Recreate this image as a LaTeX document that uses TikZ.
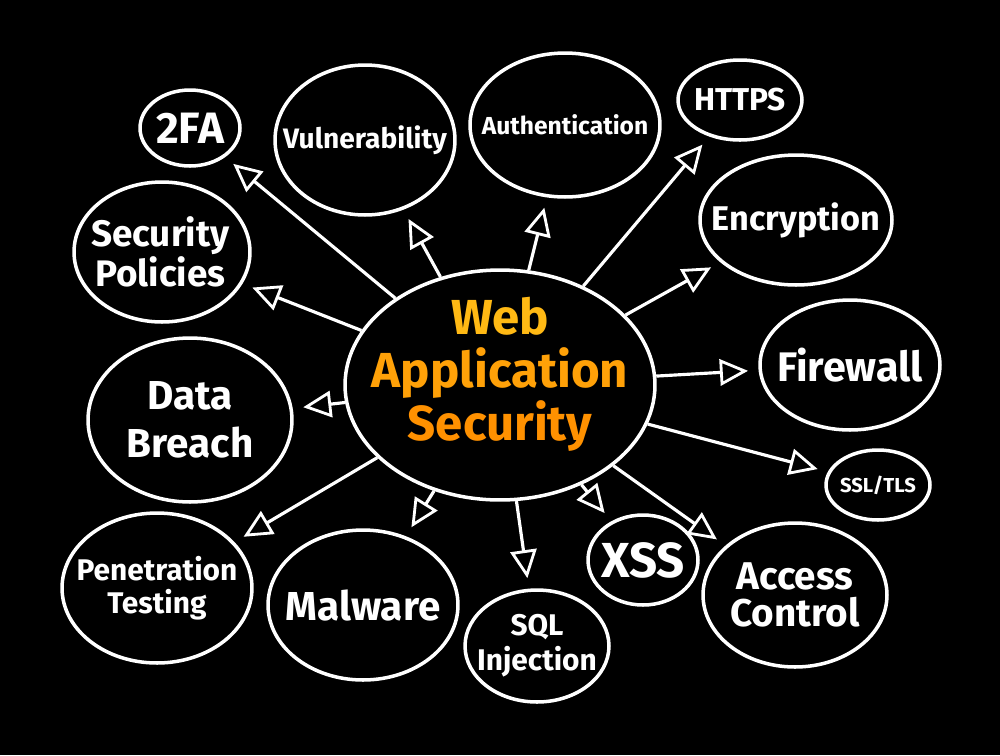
\documentclass[tikz,border=0pt]{standalone}
\usepackage{fontspec}
\setmainfont{Fira Sans}
\usetikzlibrary{shapes.geometric,arrows.meta}
\definecolor{webyel}{RGB}{255,185,20}
\definecolor{weborg}{RGB}{255,145,0}
\begin{document}
\begin{tikzpicture}[x=0.02cm,y=-0.02cm,
      bubble/.style={ellipse,draw=white,line width=2pt,inner sep=0pt},
      txt/.style={text=white,align=center,inner sep=0pt},
      vect/.style={-{Triangle[open,length=16pt,width=15pt,line width=1.6pt]},
        draw=white,line width=1.8pt,shorten >=6pt}]
    \fill[black] (0,0) rectangle (1000,755);
    % hub
    \node[bubble,minimum width=6.2cm,minimum height=4.6cm,
      label={[txt,font=\bfseries\fontsize{28}{30}\selectfont,yshift=6pt]center:%
      \textcolor{webyel}{Web}\\\textcolor{weborg!60!webyel}{Application}\\\textcolor{weborg}{Security}}]
      (hub) at (500,385) {};
    % satellites
    \node[bubble,minimum width=2cm,minimum height=1.52cm,
      label={[txt,font=\bfseries\fontsize{25}{27}\selectfont]center:2FA}] (twofa) at (190,128) {};
    \node[bubble,minimum width=3.6cm,minimum height=3cm,
      label={[txt,font=\bfseries\fontsize{16}{18}\selectfont]center:Vulnerability}] (vuln) at (365,140) {};
    \node[bubble,minimum width=3.8cm,minimum height=2.88cm,
      label={[txt,font=\bfseries\fontsize{14}{16}\selectfont]center:Authentication}] (auth) at (565,125) {};
    \node[bubble,minimum width=2.48cm,minimum height=1.6cm,
      label={[txt,font=\bfseries\fontsize{18}{20}\selectfont]center:HTTPS}] (https) at (740,100) {};
    \node[bubble,minimum width=3.84cm,minimum height=2.6cm,
      label={[txt,font=\bfseries\fontsize{19.5}{21}\selectfont]center:Encryption}] (encr) at (796,220) {};
    \node[bubble,minimum width=3.52cm,minimum height=2.8cm,
      label={[txt,font=\bfseries\fontsize{21}{21}\selectfont,xshift=-1pt]center:Security\\Policies}] (policy) at (162,252) {};
    \node[bubble,minimum width=3.6cm,minimum height=2.6cm,
      label={[txt,font=\bfseries\fontsize{23.5}{25}\selectfont]center:Firewall}] (firewall) at (850,365) {};
    \node[bubble,minimum width=4.08cm,minimum height=3.28cm,
      label={[txt,font=\bfseries\fontsize{23}{27}\selectfont]center:Data\\Breach}] (breach) at (190,420) {};
    \node[bubble,minimum width=2.08cm,minimum height=1.4cm,
      label={[txt,font=\bfseries\fontsize{11.5}{14}\selectfont]center:SSL/TLS}] (ssl) at (878,485) {};
    \node[bubble,minimum width=3.8cm,minimum height=3cm,
      label={[txt,font=\bfseries\fontsize{17}{19}\selectfont]center:Penetration\\Testing}] (pentest) at (157,588) {};
    \node[bubble,minimum width=3.8cm,minimum height=3cm,
      label={[txt,font=\bfseries\fontsize{23}{25}\selectfont]center:Malware}] (malware) at (363,605) {};
    \node[bubble,minimum width=2.88cm,minimum height=2.24cm,
      label={[txt,font=\bfseries\fontsize{17}{20}\selectfont]center:SQL\\Injection}] (sql) at (537,646) {};
    \node[bubble,minimum width=2.2cm,minimum height=1.8cm,
      label={[txt,font=\bfseries\fontsize{28}{30}\selectfont]center:XSS}] (xss) at (643,560) {};
    \node[bubble,minimum width=3.68cm,minimum height=2.88cm,
      label={[txt,font=\bfseries\fontsize{22}{21}\selectfont]center:Access\\Control}] (access) at (795,595) {};
    % arrows
    \draw[vect] (hub) -- (twofa);
    \draw[vect] (hub) -- (vuln);
    \draw[vect] (hub) -- (auth);
    \draw[vect] (hub) -- (https);
    \draw[vect] (hub) -- (encr);
    \draw[vect] (hub) -- (policy);
    \draw[vect] (hub) -- (firewall);
    \draw[vect] (hub) -- (breach);
    \draw[vect] (hub) -- (ssl);
    \draw[vect] (hub) -- (pentest);
    \draw[vect] (hub) -- (malware);
    \draw[vect] (hub) -- (sql);
    \draw[vect] (hub) -- (xss);
    \draw[vect] (hub) -- (access);
\end{tikzpicture}
\end{document}
